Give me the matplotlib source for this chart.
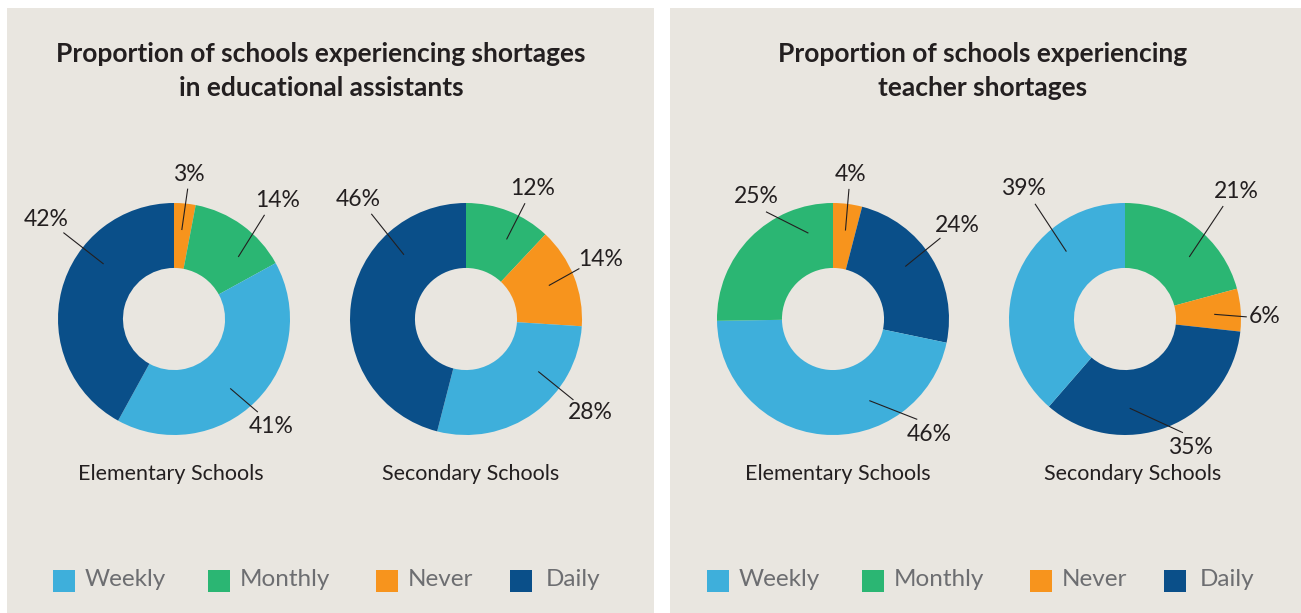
import numpy as np
import matplotlib
matplotlib.use("Agg")
import matplotlib.pyplot as plt
from matplotlib.patches import Rectangle

plt.rcParams['font.family'] = ['Lato', 'DejaVu Sans']

#### data ####
categories = ['Weekly', 'Monthly', 'Never', 'Daily']
cat_colors = {'Weekly': '#3eafdb', 'Monthly': '#2bb673',
              'Never': '#f7941d', 'Daily': '#0a4f89'}

panel_titles = ['Proportion of schools experiencing shortages\nin educational assistants',
                'Proportion of schools experiencing\nteacher shortages']
school_types = ['Elementary Schools', 'Secondary Schools']

# slices listed clockwise from 12 o'clock
ea_elem_cats = ['Never', 'Monthly', 'Weekly', 'Daily']
ea_elem_vals = [3, 14, 41, 42]
ea_sec_cats = ['Monthly', 'Never', 'Weekly', 'Daily']
ea_sec_vals = [12, 14, 28, 46]
t_elem_cats = ['Never', 'Daily', 'Weekly', 'Monthly']
t_elem_vals = [4, 24, 46, 25]
t_sec_cats = ['Monthly', 'Never', 'Daily', 'Weekly']
t_sec_vals = [21, 6, 35, 39]

#### layout ####
W, H = 1301, 613
BG = '#e9e6e0'
DARK = '#231f20'
R = 116          # donut radius in pixels
BOX = 185        # half size of donut axes in pixels

# label leader lines: inner angle, outer angle, outer radius (fraction of R)
ea_elem_lbl = ([85, 44, -51, 142], [84, 49, -48, 142], [1.13, 1.19, 1.08, 1.21])
ea_sec_lbl = ([63, 22, -36, 134], [63, 24, -37, 132], [1.12, 1.07, 1.16, 1.22])
t_elem_lbl = ([82, 36, -66, 106], [83, 37, -50, 122], [1.13, 1.16, 1.13, 1.09])
t_sec_lbl = ([44, 3, -87, 131], [49, 1, -63, 128], [1.29, 1.05, 1.10, 1.26])

donuts = [
    (174, 319, ea_elem_cats, ea_elem_vals, ea_elem_lbl),
    (466, 319, ea_sec_cats, ea_sec_vals, ea_sec_lbl),
    (833, 319, t_elem_cats, t_elem_vals, t_elem_lbl),
    (1125, 319, t_sec_cats, t_sec_vals, t_sec_lbl),
]

panels = [(7, 8, 647, 605), (670, 8, 631, 605)]
title_x = [321, 983]
sub_x = [171, 471, 838, 1133]
legend_x = [53, 208, 376, 510]

#### plotting ####
fig = plt.figure(figsize=(W / 100, H / 100), dpi=100)
fig.patch.set_facecolor('white')

ax0 = fig.add_axes([0, 0, 1, 1])
ax0.set_xlim(0, W)
ax0.set_ylim(H, 0)
ax0.axis('off')

for p, (px, py, pw, ph) in enumerate(panels):
    ax0.add_patch(Rectangle((px, py), pw, ph, facecolor=BG, edgecolor='none'))
    ax0.text(title_x[p], 71, panel_titles[p], ha='center', va='center',
             fontsize=19, fontweight='bold', color=DARK, linespacing=1.45)
    # legend
    for i, cat in enumerate(categories):
        lx = legend_x[i] + p * 654
        ax0.add_patch(Rectangle((lx, 570), 22, 22, facecolor=cat_colors[cat],
                                edgecolor='none'))
        ax0.text(lx + 32 + (4 if cat == 'Daily' else 0), 580, cat,
                 ha='left', va='center', fontsize=17.5, color='#6d6e71')

for k, (cx, cy, cats, vals, lbl) in enumerate(donuts):
    ax = fig.add_axes([(cx - BOX) / W, (H - cy - BOX) / H, 2 * BOX / W, 2 * BOX / H])
    ax.set_aspect('equal')
    ax.axis('off')
    ax.pie(vals, colors=[cat_colors[c] for c in cats], startangle=90,
           counterclock=False, radius=1,
           wedgeprops=dict(width=0.56, edgecolor='none'))
    ax.set_xlim(-BOX / R, BOX / R)
    ax.set_ylim(-BOX / R, BOX / R)

    in_ang, out_ang, out_r = lbl
    for v, a1, a2, r2 in zip(vals, in_ang, out_ang, out_r):
        t1, t2 = np.radians(a1), np.radians(a2)
        x1, y1 = 0.77 * np.cos(t1), 0.77 * np.sin(t1)
        x2, y2 = r2 * np.cos(t2), r2 * np.sin(t2)
        ax.plot([x1, x2], [y1, y2], color=DARK, lw=0.8, solid_capstyle='butt')
        txt = f'{v}%'
        hw = 6.5 * len(txt) + 1
        d = (np.hypot(hw * np.cos(t2), 10 * np.sin(t2)) + 4) / R
        ax.text(x2 + d * np.cos(t2), y2 + d * np.sin(t2), txt,
                ha='center', va='center', fontsize=16.5, color=DARK)

    ax0.text(sub_x[k], 474, school_types[k % 2], ha='center', va='center',
             fontsize=15.5, color=DARK)

fig.savefig('out.png', dpi=100, facecolor=fig.get_facecolor())
